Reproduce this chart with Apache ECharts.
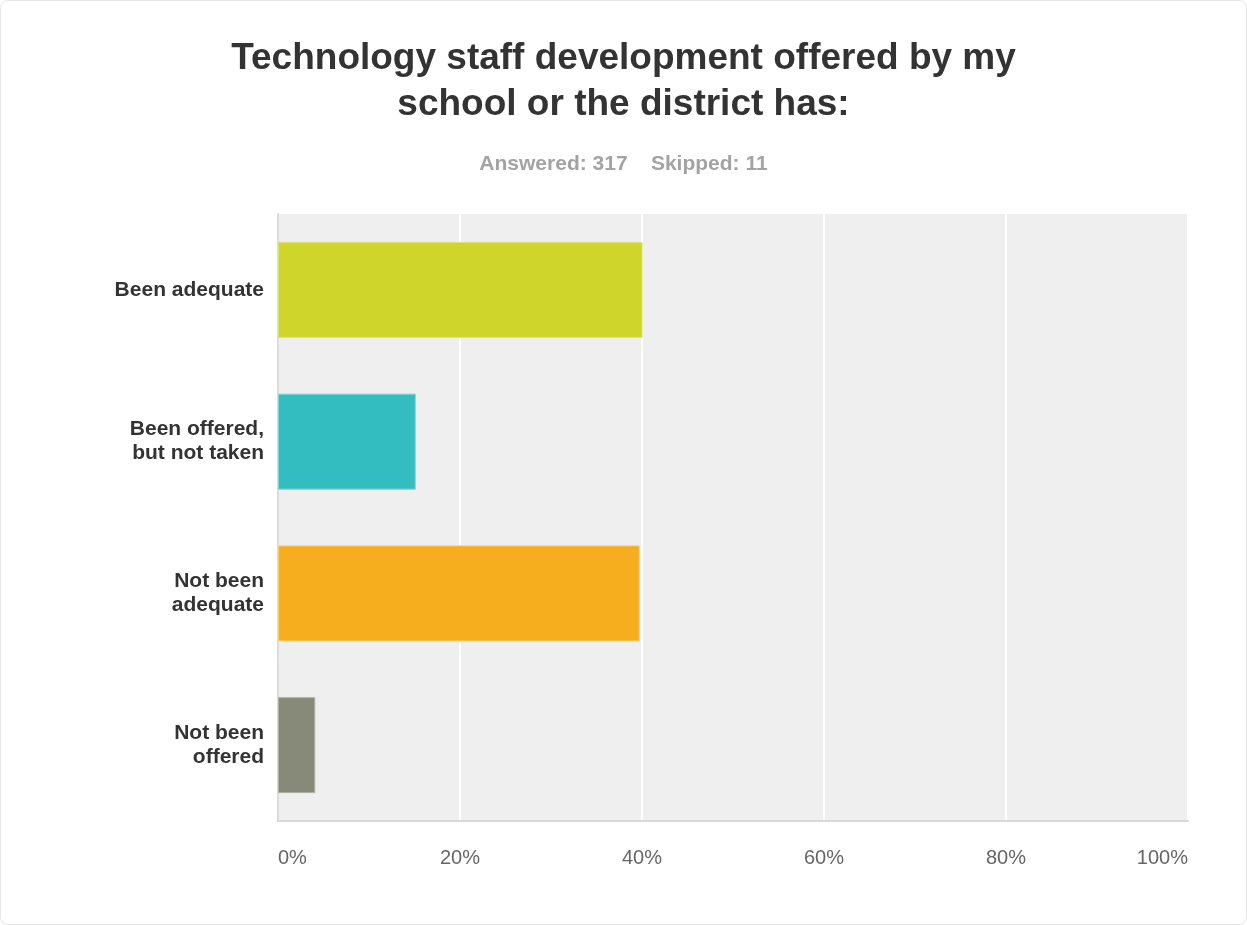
<!DOCTYPE html>
<html>
<head>
<meta charset="utf-8">
<script src="https://cdn.jsdelivr.net/npm/echarts@6/dist/echarts.min.js"></script>
<style>
  html, body { margin: 0; padding: 0; background: #ffffff; }
  #chart {
    width: 1247px; height: 925px; box-sizing: border-box;
    border: 1px solid #e6e6e6; border-radius: 8px;
  }
</style>
</head>
<body>
<div id="chart"></div>
<script>
// Survey question and response counts
const titleText = 'Technology staff development offered by my\nschool or the district has:';
const subtitleText = 'Answered: 317    Skipped: 11';
const categories = ['Been adequate', 'Been offered,\nbut not taken', 'Not been\nadequate', 'Not been\noffered'];
const percents = [40.06, 15.14, 39.75, 4.10];
const barColors = ['#cfd52a', '#34bdc0', '#f6ae1f', '#878a78'];
const borderColors = ['#dde27a', '#7fd4d6', '#f9cc6e', '#b0b2a4'];
const tickValues = [0, 20, 40, 60, 80, 100];

const chart = echarts.init(document.getElementById('chart'), null, { renderer: 'canvas' });
const font = '"Liberation Sans", Arial, Helvetica, sans-serif';

chart.setOption({
  backgroundColor: 'transparent',
  textStyle: { fontFamily: font },
  title: [
    {
      text: titleText,
      left: 'center',
      top: 30,
      textStyle: { fontFamily: font, fontSize: 37, fontWeight: 'bold', color: '#333333', lineHeight: 46 }
    },
    {
      text: subtitleText,
      left: 'center',
      top: 147,
      textStyle: { fontFamily: font, fontSize: 21, fontWeight: 'bold', color: '#a3a3a3', lineHeight: 22 }
    }
  ],
  grid: {
    left: 277, right: 58, top: 213, bottom: 103,
    show: true, backgroundColor: '#efefef', borderWidth: 0
  },
  xAxis: {
    type: 'value',
    min: tickValues[0],
    max: tickValues[tickValues.length - 1],
    interval: 20,
    axisLine: { show: true, lineStyle: { color: '#d9d9d9', width: 2 } },
    axisTick: { show: false },
    splitLine: { show: true, lineStyle: { color: '#ffffff', width: 2 } },
    axisLabel: {
      formatter: v => v + '%',
      fontFamily: font, fontSize: 20, color: '#666666', margin: 27,
      alignMinLabel: 'left', alignMaxLabel: 'right'
    }
  },
  yAxis: {
    type: 'category',
    inverse: true,
    data: categories,
    axisLine: { show: true, lineStyle: { color: '#dcdcdc', width: 2 } },
    axisTick: { show: false },
    splitLine: { show: false },
    axisLabel: {
      fontFamily: font, fontSize: 21, fontWeight: 'bold', color: '#333333',
      lineHeight: 24, margin: 14, align: 'right'
    }
  },
  series: [{
    type: 'bar',
    data: percents.map((v, i) => ({
      value: v,
      itemStyle: { color: barColors[i], borderColor: borderColors[i], borderWidth: 1 }
    })),
    barWidth: 96,
    silent: true,
    animation: false
  }]
});
</script>
</body>
</html>
